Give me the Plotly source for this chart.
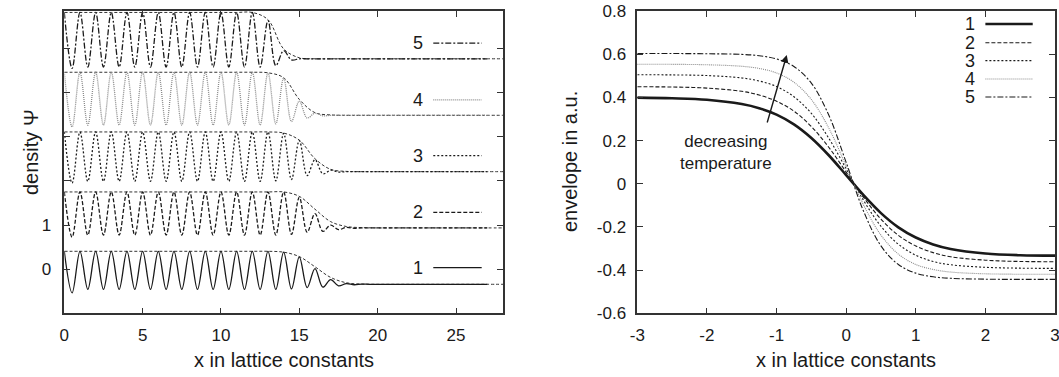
import plotly.graph_objects as go

# ---------------- left panel: density profiles ----------------
# vertical shift applied to each profile so they stack
SHIFT = [0.0, 1.3, 2.6, 3.9, 5.2]
LABELS = ["1", "2", "3", "4", "5"]

# density maxima at x = 0, 1, ..., 27 (one per lattice constant)
PEAKS = [
    [0.41] * 14 + [0.39, 0.285, 0.02, -0.23, -0.32, -0.33] + [-0.335] * 8,
    [0.45] * 15 + [0.33, -0.04, -0.30, -0.35] + [-0.362] * 9,
    [0.505] * 14 + [0.47, 0.31, -0.12, -0.36] + [-0.392] * 10,
    [0.553] * 13 + [0.54, 0.42, -0.10, -0.37] + [-0.419] * 11,
    [0.603] * 13 + [0.42, -0.26] + [-0.443] * 13,
]
# density minima at x = 0.5, 1.5, ..., 26.5
TROUGHS = [
    [-0.53] + [-0.45] * 13 + [-0.44, -0.41, -0.40, -0.37, -0.345] + [-0.335] * 8,
    [-0.57] + [-0.525] * 13 + [-0.51, -0.46, -0.44, -0.40, -0.37] + [-0.362] * 8,
    [-0.65] + [-0.61] * 12 + [-0.60, -0.57, -0.48, -0.44, -0.40] + [-0.392] * 9,
    [-0.68] + [-0.64] * 12 + [-0.61, -0.56, -0.48, -0.43] + [-0.419] * 10,
    [-0.66] + [-0.63] * 12 + [-0.60, -0.47] + [-0.443] * 12,
]
# upper envelope at x = 0, 1, ..., 28
ENVELOPE = [
    [0.41] * 14 + [0.39, 0.29, 0.06, -0.18, -0.30, -0.33] + [-0.335] * 9,
    [0.45] * 15 + [0.35, 0.06, -0.22, -0.33, -0.355] + [-0.362] * 9,
    [0.505] * 14 + [0.48, 0.32, -0.10, -0.34, -0.385] + [-0.392] * 10,
    [0.553] * 13 + [0.54, 0.43, -0.06, -0.36, -0.41] + [-0.419] * 11,
    [0.603] * 13 + [0.44, -0.22, -0.42] + [-0.443] * 13,
]
LATTICE = 1.0  # spacing of density maxima

# ---------------- right panel: envelopes ----------------
RX = [-3, -2.5, -2, -1.5, -1.25, -1, -0.75, -0.5, -0.25, 0,
      0.25, 0.5, 0.75, 1, 1.25, 1.5, 2, 2.5, 3]
RY = [
    [0.399, 0.396, 0.389, 0.369, 0.350, 0.320, 0.275, 0.212, 0.132, 0.040,
     -0.053, -0.136, -0.202, -0.249, -0.281, -0.302, -0.323, -0.331, -0.333],
    [0.449, 0.448, 0.443, 0.428, 0.411, 0.382, 0.336, 0.265, 0.169, 0.054,
     -0.063, -0.164, -0.239, -0.288, -0.319, -0.338, -0.354, -0.360, -0.361],
    [0.505, 0.504, 0.501, 0.490, 0.476, 0.450, 0.403, 0.326, 0.211, 0.069,
     -0.077, -0.197, -0.280, -0.331, -0.360, -0.375, -0.387, -0.391, -0.392],
    [0.553, 0.553, 0.551, 0.544, 0.534, 0.513, 0.470, 0.390, 0.258, 0.082,
     -0.098, -0.238, -0.326, -0.374, -0.397, -0.409, -0.417, -0.419, -0.419],
    [0.603, 0.603, 0.602, 0.599, 0.593, 0.578, 0.543, 0.466, 0.318, 0.099,
     -0.127, -0.288, -0.374, -0.414, -0.431, -0.438, -0.442, -0.443, -0.443],
]

FONT = "Liberation Sans, Arial, Helvetica, sans-serif"
INK = "#1a1a1a"
STYLE = [
    dict(color=INK, dash="solid"),
    dict(color=INK, dash="4px,2px"),
    dict(color=INK, dash="2px,2px"),
    dict(color="#8a8a8a", dash="1px,1px"),
    dict(color=INK, dash="6px,2px,2px,2px"),
]

fig = go.Figure()

for k in range(5):
    xs, ys = [], []
    for n, p in enumerate(PEAKS[k]):
        xs.append(n * LATTICE)
        ys.append(p + SHIFT[k])
        if n < len(TROUGHS[k]):
            xs.append((n + 0.5) * LATTICE)
            ys.append(TROUGHS[k][n] + SHIFT[k])
    ex = [n * LATTICE for n in range(len(ENVELOPE[k]))]
    ey = [v + SHIFT[k] for v in ENVELOPE[k]]
    fig.add_trace(go.Scatter(
        x=ex, y=ey, mode="lines", xaxis="x", yaxis="y",
        line=dict(color="#333333", width=1, dash="3px,2px", shape="spline"),
        hoverinfo="skip"))
    fig.add_trace(go.Scatter(
        x=xs, y=ys, mode="lines", xaxis="x", yaxis="y", name=LABELS[k],
        line=dict(width=1.3, shape="spline", smoothing=1.0, **STYLE[k])))

for k in range(5):
    fig.add_trace(go.Scatter(
        x=RX, y=RY[k], mode="lines", xaxis="x2", yaxis="y2", name=LABELS[k],
        line=dict(width=2.6 if k == 0 else 1.1, shape="spline", **STYLE[k])))

shapes, annotations = [], []

# key for the stacked profiles
key_y_left = [0.04, 1.29, 2.57, 3.83, 5.11]
for k in range(5):
    shapes.append(dict(type="line", xref="x", yref="y", x0=23.55, x1=26.64,
                       y0=key_y_left[k], y1=key_y_left[k],
                       line=dict(width=1.3, **STYLE[k])))
    annotations.append(dict(xref="x", yref="y", x=22.57, y=key_y_left[k],
                            xanchor="center", yanchor="middle",
                            text=LABELS[k], showarrow=False,
                            font=dict(size=18, color=INK, family=FONT)))

# key for the envelope panel
key_y_right = [0.740, 0.653, 0.570, 0.485, 0.402]
for k in range(5):
    shapes.append(dict(type="line", xref="x2", yref="y2", x0=2.0, x1=2.68,
                       y0=key_y_right[k], y1=key_y_right[k],
                       line=dict(width=2.6 if k == 0 else 1.1, **STYLE[k])))
    annotations.append(dict(xref="x2", yref="y2", x=1.88, y=key_y_right[k],
                            text=LABELS[k], showarrow=False, xanchor="right",
                            yanchor="middle",
                            font=dict(size=18, color=INK, family=FONT)))

# arrow and its caption
annotations.append(dict(xref="x2", yref="y2", axref="x2", ayref="y2",
                        x=-0.853, y=0.596, ax=-1.14, ay=0.277, text="",
                        showarrow=True, arrowhead=2, arrowsize=1.1,
                        arrowwidth=1.4, arrowcolor=INK))
annotations.append(dict(xref="x2", yref="y2", x=-1.72, y=0.147,
                        xanchor="center", yanchor="middle",
                        text="decreasing<br>temperature", showarrow=False,
                        font=dict(size=17, color=INK, family=FONT)))

# axis titles
title_font = dict(size=20, color=INK, family=FONT)
annotations += [
    dict(xref="paper", yref="paper", x=(64.3 + 503) / 2 / 1059, y=(377 - 360) / 377,
         xanchor="center", yanchor="middle",
         text="x in lattice constants", showarrow=False, font=title_font),
    dict(xref="paper", yref="paper", x=(637.3 + 1055) / 2 / 1059, y=(377 - 360) / 377,
         xanchor="center", yanchor="middle",
         text="x in lattice constants", showarrow=False, font=title_font),
    dict(xref="paper", yref="paper", x=31 / 1059, y=(377 - 152) / 377,
         xanchor="center", yanchor="middle",
         text="density Ψ", textangle=-90, showarrow=False, font=title_font),
    dict(xref="paper", yref="paper", x=570 / 1059, y=(377 - 162) / 377,
         xanchor="center", yanchor="middle",
         text="envelope in a.u.", textangle=-90, showarrow=False, font=title_font),
]

axis_common = dict(showline=True, linecolor="#333333", linewidth=1.5,
                   mirror="ticks", ticks="inside", ticklen=6, tickwidth=1.2,
                   tickcolor="#333333", showgrid=False, zeroline=False,
                   automargin=False, ticklabeloverflow="allow",
                   tickfont=dict(size=17, color=INK, family=FONT))

ydom = [(377 - 313.3) / 377, (377 - 11) / 377]

fig.update_layout(
    width=1059, height=377,
    margin=dict(l=0, r=0, t=0, b=0),
    paper_bgcolor="white", plot_bgcolor="white",
    showlegend=False,
    font=dict(family=FONT, color=INK),
    xaxis=dict(domain=[64.3 / 1059, 503 / 1059], range=[0, 28],
               tickvals=[0, 5, 10, 15, 20, 25], ticklabelstandoff=6,
               anchor="y", **axis_common),
    yaxis=dict(domain=ydom, range=[-0.99, 5.836],
               tickvals=[0, 1, 2, 3, 4, 5],
               ticktext=["0", "1", "", "", "", ""], ticklabelstandoff=8,
               anchor="x", **axis_common),
    xaxis2=dict(domain=[637.3 / 1059, 1055 / 1059], range=[-3, 3],
                tickvals=[-3, -2, -1, 0, 1, 2, 3],
                ticktext=["-3", "-2", "-1", "0", "1", "2", "3"],
                ticklabelstandoff=6, anchor="y2", **axis_common),
    yaxis2=dict(domain=ydom, range=[-0.6, 0.8],
                tickvals=[-0.6, -0.4, -0.2, 0, 0.2, 0.4, 0.6, 0.8],
                ticktext=["-0.6", "-0.4", "-0.2", "0", "0.2", "0.4", "0.6", "0.8"],
                ticklabelstandoff=6, anchor="x2", **axis_common),
    shapes=shapes,
    annotations=annotations,
)

fig.write_html("out.html")
